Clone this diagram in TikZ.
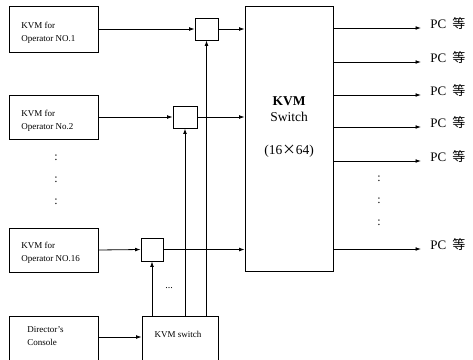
\documentclass[tikz,border=0pt]{standalone}
\usepackage{fontspec}
\setmainfont{Liberation Serif}
\newfontfamily\cjk{Noto Sans CJK SC}
\usetikzlibrary{arrows.meta}
\begin{document}
\begin{tikzpicture}[x=1pt,y=-1pt,
 line width=0.8pt,
 box/.style={draw, rectangle, inner sep=0pt},
 arr/.style={-{Latex[length=5.5pt,width=3.8pt]}},
 smalltext/.style={font=\fontsize{9}{13}\selectfont, align=left, inner sep=0pt},
 bigtext/.style={font=\fontsize{13.5}{16}\selectfont, align=center, inner sep=0pt},
 pctext/.style={font=\fontsize{13}{13}\selectfont, inner sep=0pt, anchor=base west},
 dotstext/.style={font=\fontsize{12}{12}\selectfont, inner sep=0pt}]
\path[use as bounding box, clip] (0,0) rectangle (473,359);

% operator boxes
\node[box, minimum width=89pt, minimum height=46pt] (op1) at (53.5,29) {};
\node[smalltext, anchor=west] at (21,32.5) {KVM for\\Operator NO.1};
\node[box, minimum width=89pt, minimum height=44pt] (op2) at (53.5,117) {};
\node[smalltext, anchor=west] at (21,121) {KVM for\\Operator No.2};
\node[box, minimum width=89pt, minimum height=44pt] (op16) at (53.5,250) {};
\node[smalltext, anchor=west] at (21,252.5) {KVM for\\Operator NO.16};
\node[box, minimum width=89pt, minimum height=60pt] (dir) at (53.5,346) {};
\node[smalltext, anchor=west] at (27,336) {Director’s\\Console};

% left colons
\node[dotstext] at (56,158) {:};
\node[dotstext] at (56,180) {:};
\node[dotstext] at (56,202) {:};

% small switch boxes
\node[box, minimum width=23pt, minimum height=22pt] (s1) at (206.5,29) {};
\node[box, minimum width=24pt, minimum height=22pt] (s2) at (185,117) {};
\node[box, minimum width=22pt, minimum height=23pt] (s3) at (152,249.5) {};

% KVM switch (director)
\node[box, minimum width=76pt, minimum height=60pt] (ks) at (180,346) {};
\node[smalltext] at (178,334) {KVM switch};

% big switch
\node[box, minimum width=88pt, minimum height=265pt] (big) at (289,138.5) {};
\node[bigtext] at (289,127) {\textbf{KVM}\\Switch\\[17pt](16{\cjk ×}64)};

% operator inputs
\draw[arr] (op1.east) -- (s1.west);
\draw[arr] (op2.east) -- (s2.west);
\draw[arr] (op16.east) -- (s3.west);
\draw[arr] ([yshift=9pt]dir.east) -- ([yshift=9pt]ks.west);

% verticals from KVM switch
\draw[arr] (ks.north -| s1.south) -- (s1.south);
\draw[arr, line width=1pt] (ks.north -| s2.south) -- (s2.south);
\draw[arr] (ks.north -| s3.south) -- (s3.south);
\node[smalltext, font=\fontsize{10}{10}\selectfont, anchor=base] at (169,288.5) {...};

% into big switch
\draw[arr] (s1.east) -- (s1.east -| big.west);
\draw[arr] (s2.east) -- (s2.east -| big.west);
\draw[arr] (s3.east) -- (s3.east -| big.west);

% outputs
\foreach \i/\y in {1/28,2/62,3/95,4/127,5/161,6/249}{
  \coordinate (o\i) at (421,\y);
  \draw[arr] (big.east |- o\i) -- (o\i);
  \node[pctext] at (430,\y+0.5) {PC\hspace{6pt}{\cjk 等}};
}

% right colons
\node[dotstext] at (379,179) {:};
\node[dotstext] at (379,201) {:};
\node[dotstext] at (379,223) {:};
\end{tikzpicture}
\end{document}
